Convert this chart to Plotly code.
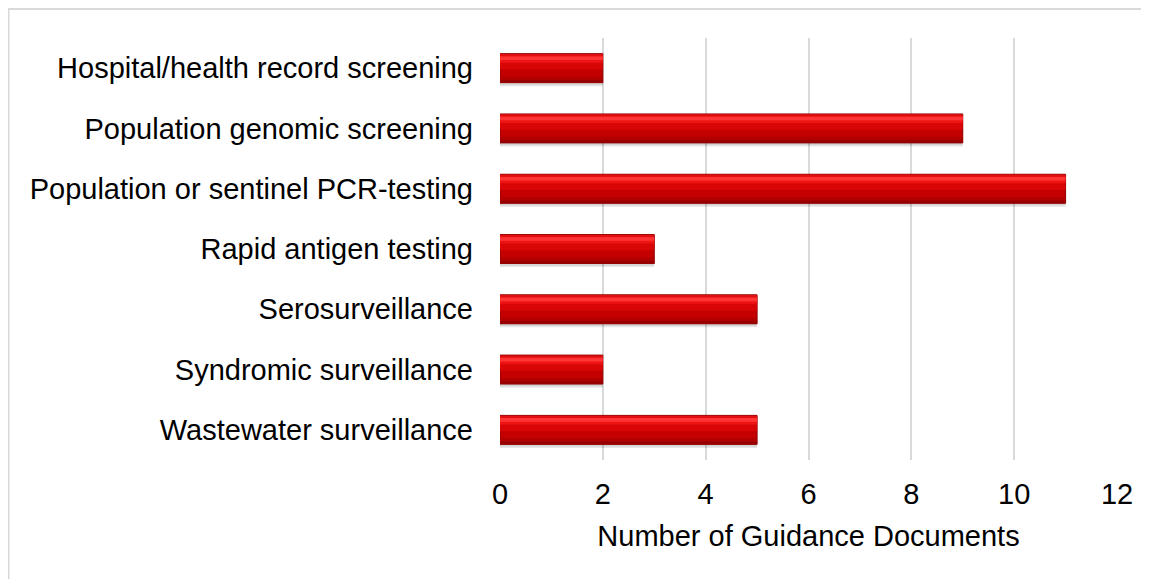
import plotly.graph_objects as go

categories = [
    "Hospital/health record screening",
    "Population genomic screening",
    "Population or sentinel PCR-testing",
    "Rapid antigen testing",
    "Serosurveillance",
    "Syndromic surveillance",
    "Wastewater surveillance",
]
counts = [2, 9, 11, 3, 5, 2, 5]
x_ticks = [0, 2, 4, 6, 8, 10, 12]
x_title = "Number of Guidance Documents"

# bottom-to-top order for plotting
cats = categories[::-1]
vals = counts[::-1]

FONT = "Liberation Sans, Arial, sans-serif"
FS = 29
W = 0.48
half = W / 2

fig = go.Figure()

def layer(color, off, width, line=None):
    fig.add_trace(go.Bar(
        y=cats, x=vals, orientation="h",
        offset=off, width=width,
        marker=dict(color=color, line=line or dict(width=0)),
        hoverinfo="skip", showlegend=False,
    ))

# shadow
layer("rgba(0,0,0,0.10)", -half - 0.06, W)
layer("rgba(0,0,0,0.08)", -half - 0.035, W)
# base body
layer("#c40000", -half, W, dict(color="#8c0000", width=1))
# gradient stripes
layer("#b00000", -half, 0.10)
layer("#960000", -half, 0.045)
layer("#d80606", -half + 0.22, 0.22)
layer("#ee1414", half - 0.15, 0.12)
layer("#ff3434", half - 0.105, 0.06)
layer("#e01010", half - 0.04, 0.035)

FW, FH = 1141, 571
L, R, T, B = 492, 32, 30, 119
PW = FW - L - R
PH = FH - T - B

fig.update_layout(
    width=FW, height=FH,
    margin=dict(l=L, r=R, t=T, b=B),
    paper_bgcolor="white", plot_bgcolor="white",
    barmode="overlay",
    font=dict(family=FONT, size=FS, color="#000000"),
    xaxis=dict(
        range=[0, 12], tickvals=x_ticks, ticktext=[str(t) for t in x_ticks],
        showgrid=True, gridcolor="#d9d9d9", gridwidth=1.5,
        zeroline=False, showline=False,
        ticks="", ticklabelstandoff=14,
        tickfont=dict(family=FONT, size=FS),
        title=dict(text=x_title, font=dict(family=FONT, size=FS), standoff=16),
        fixedrange=True,
    ),
    yaxis=dict(
        showgrid=False, zeroline=False, showline=False,
        ticks="", ticklabelstandoff=26,
        tickfont=dict(family=FONT, size=FS),
        range=[-0.5, 6.5], fixedrange=True,
    ),
    shapes=[dict(
        type="rect", xref="paper", yref="paper",
        x0=(0.5 - L) / PW, x1=1.5,
        y0=-0.6, y1=(PH + T - 1) / PH,
        line=dict(color="#d9d9d9", width=2), fillcolor="rgba(0,0,0,0)",
        layer="below",
    )],
)

fig.write_html("out.html")
